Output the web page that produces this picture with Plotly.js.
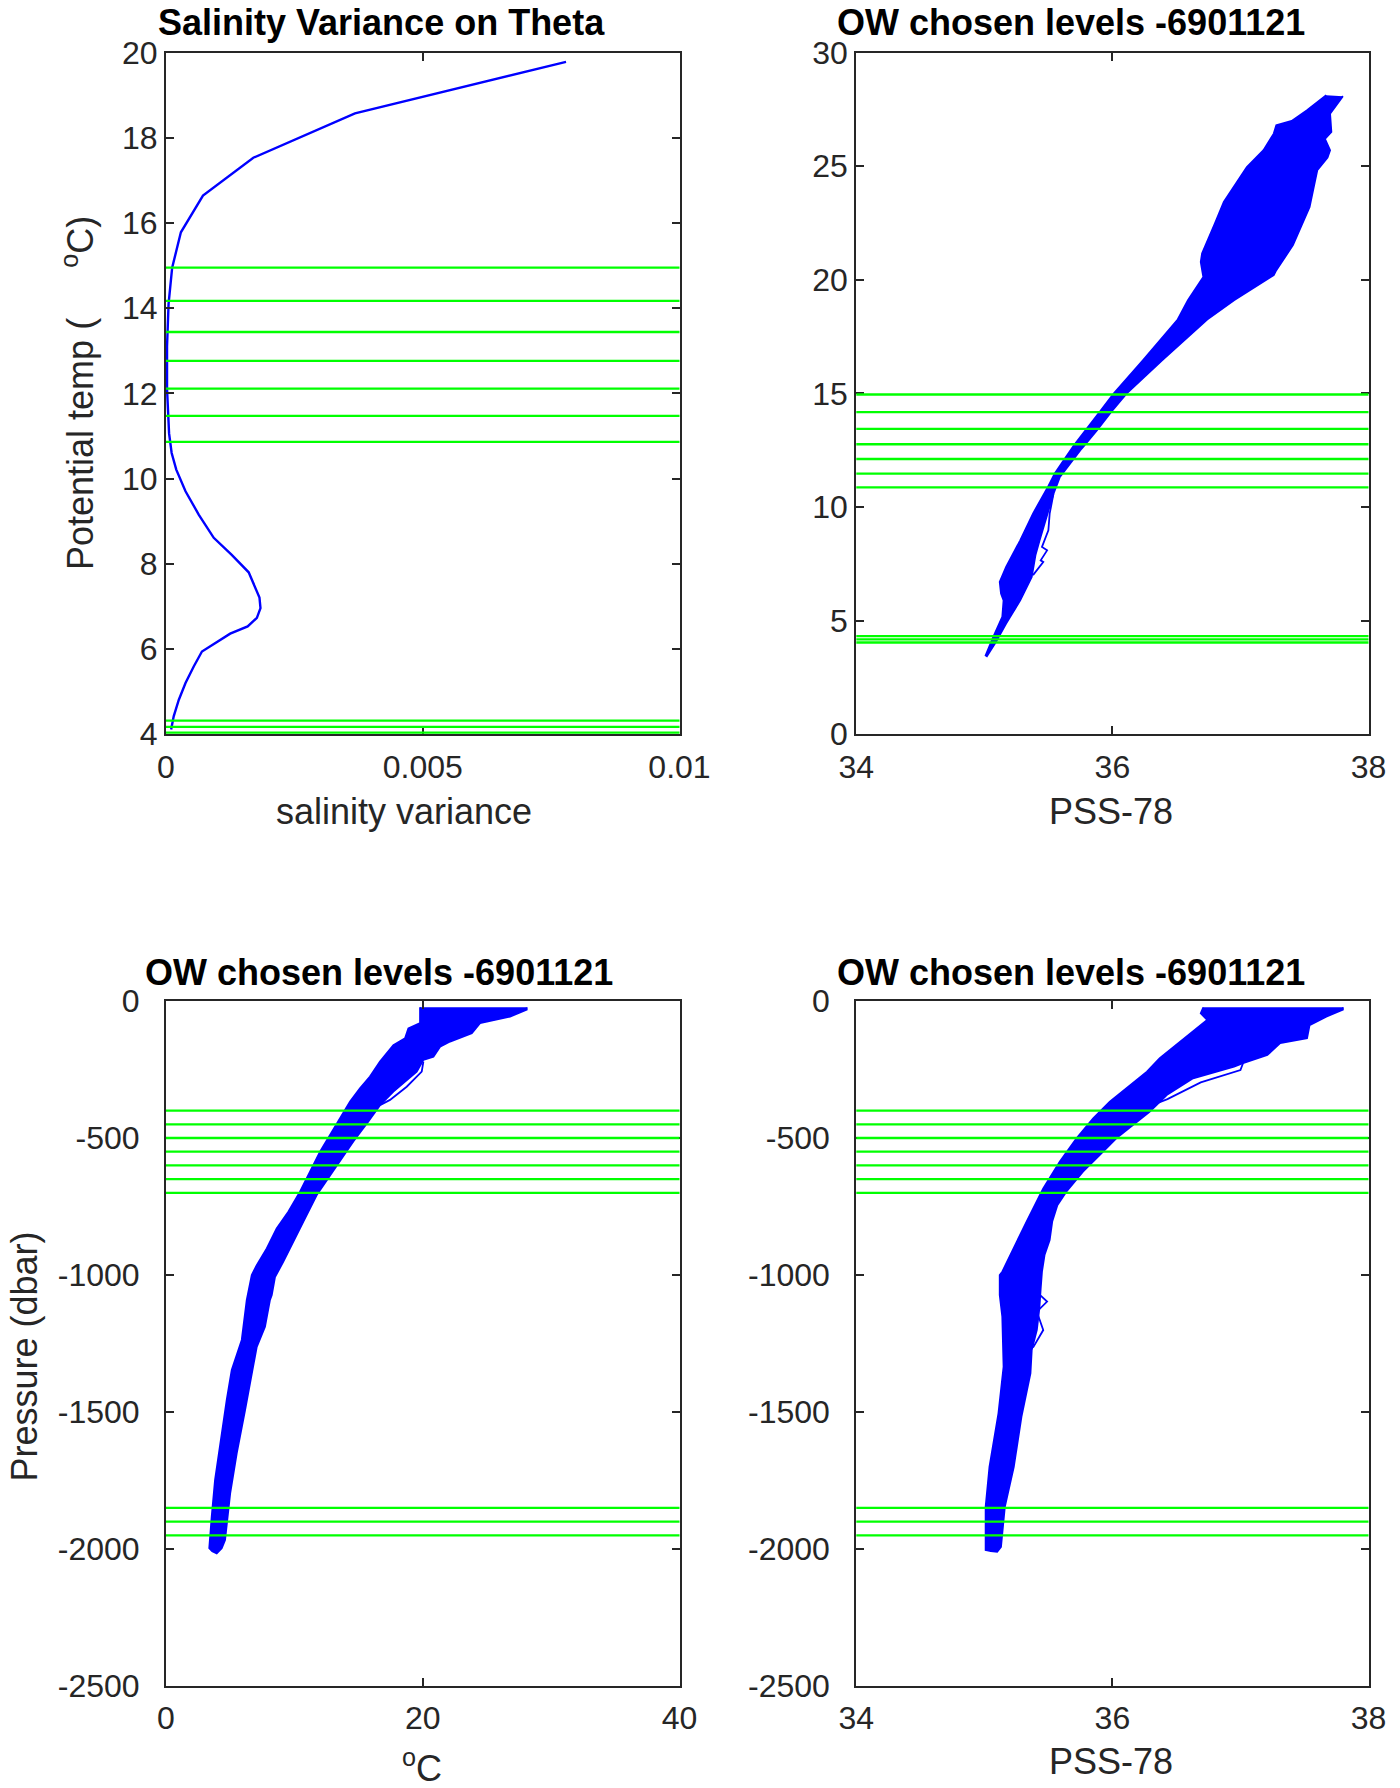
<!DOCTYPE html>
<html>
<head>
<meta charset="utf-8">
<script src="https://cdn.plot.ly/plotly-3.0.1.min.js"></script>
<style>
html,body{margin:0;padding:0;background:#fff;}
#chart{width:1400px;height:1788px;}
</style>
</head>
<body>
<div id="chart"></div>
<script>
// ---------------- DATA ----------------
// Panel 1: salinity variance on theta levels
const salVarTheta = [19.78, 18.57, 17.53, 16.64, 15.78, 14.95, 14.1, 13.1, 12.1, 11.06, 10.6, 10.21, 9.70, 9.15, 8.61, 8.21, 7.80, 7.21, 6.96, 6.73, 6.53, 6.36, 5.94, 5.59, 5.20, 4.81, 4.42, 4.11];
const salVar      = [0.00779, 0.00368, 0.0017, 0.00072, 0.00029, 0.00012, 0.00005, 0.00002, 0.00002, 0.00006, 0.00011, 0.0002, 0.00038, 0.00064, 0.00093, 0.00128, 0.00161, 0.00182, 0.00184, 0.00177, 0.00159, 0.00125, 0.0007, 0.00054, 0.00038, 0.00025, 0.00015, 0.0001];

// chosen levels
const thetaLevels = [14.95, 14.17, 13.44, 12.76, 12.11, 11.47, 10.86, 4.32, 4.17, 4.035];
const presLevels  = [-400, -450, -500, -550, -600, -650, -700, -1850, -1900, -1950];

// Panel 2: theta-S profile bundle (left / right edges of the envelope)
const tsLeftS      = [37.67, 37.52, 37.40, 37.28, 37.26, 37.18, 37.05, 36.97, 36.87, 36.80, 36.70, 36.69, 36.71, 36.59, 36.51, 36.24, 36.01, 35.90, 35.79, 35.70, 35.62, 35.55, 35.49, 35.38, 35.28, 35.17, 35.12, 35.13, 35.15, 35.14, 35.07, 35.01];
const tsLeftTheta  = [28.12, 27.46, 26.99, 26.80, 26.43, 25.70, 24.96, 24.30, 23.42, 22.47, 21.15, 20.78, 20.12, 19.10, 18.25, 16.46, 14.99, 14.18, 13.38, 12.72, 12.06, 11.47, 10.81, 9.71, 8.53, 7.36, 6.70, 6.19, 5.89, 5.16, 4.28, 3.47];
const tsRightS     = [37.80, 37.70, 37.71, 37.66, 37.70, 37.68, 37.60, 37.57, 37.54, 37.48, 37.41, 37.28, 37.26, 36.95, 36.74, 36.39, 36.11, 35.99, 35.88, 35.76, 35.67, 35.59, 35.54, 35.50, 35.47, 35.43, 35.40, 35.37, 35.28, 35.17, 35.09, 35.02];
const tsRightTheta = [28.08, 27.31, 26.50, 26.20, 25.70, 25.38, 24.82, 24.01, 23.20, 22.47, 21.52, 20.42, 20.20, 19.10, 18.25, 16.46, 14.99, 14.18, 13.38, 12.57, 11.91, 11.32, 10.59, 9.90, 9.30, 8.50, 7.90, 6.92, 5.89, 4.87, 4.06, 3.43];
const tsStrandS     = [35.54, 35.51, 35.50, 35.45, 35.49, 35.44, 35.46, 35.38];
const tsStrandTheta = [10.59, 9.71, 8.97, 8.24, 8.09, 7.65, 7.58, 7.00];

// Panel 3: pressure-temperature profile bundle
const ptLeftT  = [19.79, 19.79, 18.88, 18.62, 17.71, 16.67, 15.89, 15.11, 14.34, 13.56, 12.78, 12.0, 11.22, 10.44, 9.53, 8.62, 7.85, 7.07, 6.68, 6.41, 6.29, 5.90, 5.12, 4.73, 4.21, 3.82, 3.56, 3.37];
const ptLeftP  = [-23, -81, -100, -136, -161, -221, -276, -319, -367, -428, -489, -550, -623, -696, -769, -830, -903, -964, -1000, -1073, -1091, -1237, -1347, -1456, -1627, -1748, -1882, -1997];
const ptRightT = [28.1, 28.1, 26.8, 24.46, 23.82, 22.13, 21.35, 20.83, 20.05, 19.53, 17.71, 16.67, 15.76, 14.59, 13.30, 11.74, 10.70, 9.92, 9.14, 8.49, 8.24, 8.10, 7.71, 7.07, 6.68, 6.16, 5.51, 5.0, 4.60, 4.34, 3.95, 3.6];
const ptRightP = [-23, -32, -57, -81, -118, -148, -167, -203, -215, -258, -331, -380, -440, -513, -599, -708, -805, -880, -951, -1008, -1073, -1091, -1189, -1262, -1359, -1493, -1651, -1797, -1967, -1997, -2016, -2008];
const ptStrandT = [20.05, 19.92, 18.75, 17.45, 16.67];
const ptStrandP = [-221, -258, -313, -361, -380];

// Panel 4: pressure-salinity profile bundle
const psLeftS  = [36.71, 36.69, 36.74, 36.66, 36.58, 36.50, 36.37, 36.27, 36.11, 35.98, 35.85, 35.72, 35.59, 35.46, 35.33, 35.23, 35.14, 35.12, 35.12, 35.14, 35.15, 35.11, 35.04, 35.01, 35.01];
const psLeftP  = [-23, -45, -69, -100, -130, -161, -209, -258, -319, -367, -428, -501, -586, -684, -805, -903, -988, -1000, -1073, -1152, -1335, -1505, -1700, -1846, -2004];
const psRightS = [37.80, 37.80, 37.67, 37.54, 37.52, 37.31, 37.21, 37.02, 36.95, 36.63, 36.43, 36.29, 36.16, 36.03, 35.90, 35.77, 35.64, 35.57, 35.53, 35.51, 35.47, 35.45, 35.44, 35.43, 35.41, 35.37, 35.36, 35.29, 35.23, 35.16, 35.13, 35.10, 35.05];
const psRightP = [-23, -32, -57, -88, -136, -154, -197, -227, -240, -282, -341, -404, -453, -501, -562, -623, -696, -745, -805, -872, -927, -988, -1049, -1120, -1200, -1274, -1359, -1517, -1700, -1846, -1992, -2010, -2008];
const psStrandS  = [37.02, 37.00, 36.69, 36.43, 36.35];
const psStrandP  = [-227, -252, -297, -358, -373];
const psStrand2S = [35.44, 35.49, 35.41, 35.46, 35.38];
const psStrand2P = [-1075, -1097, -1134, -1201, -1265];

// ticks
const varTickVals = [0, 0.005, 0.01];
const varTickText = ['0', '0.005', '0.01'];
const thetaTickVals1 = [4, 6, 8, 10, 12, 14, 16, 18, 20];
const thetaTickVals2 = [0, 5, 10, 15, 20, 25, 30];
const salTickVals = [34, 36, 38];
const tempTickVals = [0, 20, 40];
const presTickVals = [-2500, -2000, -1500, -1000, -500, 0];
const presTickText = ['-2500', '-2000', '-1500', '-1000', '-500', '0'];

// titles
const titleTop1 = 'Salinity Variance on Theta';
const titleOW = 'OW chosen levels -6901121';

// ---------------- FIGURE ----------------
const W = 1400, H = 1788;
const px = p => p / W;
const py = p => 1 - p / H;
const FONT = 'Liberation Sans, Arial, Helvetica, sans-serif';
const BLUE = '#0000ff', GREEN = '#00ff00', AXC = '#262626';

function envelope(lx, ly, rx, ry) {
  return {
    x: lx.concat(rx.slice().reverse()),
    y: ly.concat(ry.slice().reverse())
  };
}

const traces = [];
traces.push({x: salVar, y: salVarTheta, xaxis: 'x', yaxis: 'y', mode: 'lines',
  line: {color: BLUE, width: 2.4}});

const ts = envelope(tsLeftS, tsLeftTheta, tsRightS, tsRightTheta);
traces.push({x: ts.x, y: ts.y, xaxis: 'x2', yaxis: 'y2', mode: 'lines', fill: 'toself',
  fillcolor: BLUE, line: {color: BLUE, width: 1.8}});
traces.push({x: tsStrandS, y: tsStrandTheta, xaxis: 'x2', yaxis: 'y2', mode: 'lines',
  line: {color: BLUE, width: 1.8}});

const pt = envelope(ptLeftT, ptLeftP, ptRightT, ptRightP);
traces.push({x: pt.x, y: pt.y, xaxis: 'x3', yaxis: 'y3', mode: 'lines', fill: 'toself',
  fillcolor: BLUE, line: {color: BLUE, width: 1.8}});
traces.push({x: ptStrandT, y: ptStrandP, xaxis: 'x3', yaxis: 'y3', mode: 'lines',
  line: {color: BLUE, width: 1.8}});

const ps = envelope(psLeftS, psLeftP, psRightS, psRightP);
traces.push({x: ps.x, y: ps.y, xaxis: 'x4', yaxis: 'y4', mode: 'lines', fill: 'toself',
  fillcolor: BLUE, line: {color: BLUE, width: 1.8}});
traces.push({x: psStrandS, y: psStrandP, xaxis: 'x4', yaxis: 'y4', mode: 'lines',
  line: {color: BLUE, width: 1.8}});
traces.push({x: psStrand2S, y: psStrand2P, xaxis: 'x4', yaxis: 'y4', mode: 'lines',
  line: {color: BLUE, width: 1.8}});

const shapes = [];
function levelLines(levels, xa, ya) {
  levels.forEach(v => shapes.push({type: 'line', xref: xa + ' domain', yref: ya,
    x0: 0, x1: 1, y0: v, y1: v, line: {color: GREEN, width: 2.3}, layer: 'above'}));
}
levelLines(thetaLevels, 'x', 'y');
levelLines(thetaLevels, 'x2', 'y2');
levelLines(presLevels, 'x3', 'y3');
levelLines(presLevels, 'x4', 'y4');

const axBase = {
  showline: true, linecolor: AXC, linewidth: 2, mirror: 'ticks',
  ticks: 'inside', ticklen: 8, tickwidth: 2, tickcolor: AXC,
  showgrid: false, zeroline: false, fixedrange: true,
  tickfont: {family: FONT, size: 32, color: AXC}
};
const xL = [166 / W, 679.5 / W], xR = [856.3 / W, 1368.5 / W];
const yT = [py(734.2), py(52.5)], yB = [py(1686), py(1001)];

function xax(dom, anchor, range, vals, text) {
  const a = Object.assign({}, axBase, {domain: dom, anchor: anchor, range: range,
    tickmode: 'array', tickvals: vals, ticklabelstandoff: 3});
  a.ticktext = text || vals.map(String);
  return a;
}
function yax(dom, anchor, range, vals, text, standoff) {
  const a = Object.assign({}, axBase, {domain: dom, anchor: anchor, range: range,
    tickmode: 'array', tickvals: vals, ticklabelstandoff: standoff});
  a.ticktext = text || vals.map(String);
  return a;
}

const titleFont = {family: FONT, size: 36, color: '#000000', weight: 'bold'};
const labFont = {family: FONT, size: 36, color: AXC};
function ann(text, x, y, font, angle) {
  return {text: text, xref: 'paper', yref: 'paper', x: px(x), y: py(y),
    xanchor: 'center', yanchor: 'middle', showarrow: false, font: font,
    textangle: angle || 0};
}

const layout = {
  width: W, height: H, margin: {l: 0, r: 0, t: 0, b: 0},
  paper_bgcolor: '#ffffff', plot_bgcolor: '#ffffff', showlegend: false,
  xaxis:  xax(xL, 'y',  [0, 0.01], varTickVals, varTickText),
  yaxis:  yax(yT, 'x',  [4, 20], thetaTickVals1, null, 12.5),
  xaxis2: xax(xR, 'y2', [34, 38], salTickVals),
  yaxis2: yax(yT, 'x2', [0, 30], thetaTickVals2, null, 11.5),
  xaxis3: xax(xL, 'y3', [0, 40], tempTickVals),
  yaxis3: yax(yB, 'x3', [-2500, 0], presTickVals, presTickText, 18),
  xaxis4: xax(xR, 'y4', [34, 38], salTickVals),
  yaxis4: yax(yB, 'x4', [-2500, 0], presTickVals, presTickText, 18),
  shapes: shapes,
  annotations: [
    ann('<b>' + titleTop1 + '</b>', 381, 22.5, titleFont),
    ann('<b>' + titleOW + '</b>', 1071, 22.5, titleFont),
    ann('<b>' + titleOW + '</b>', 379, 972, titleFont),
    ann('<b>' + titleOW + '</b>', 1071, 972, titleFont),
    ann('salinity variance', 403.8, 811.5, labFont),
    ann('PSS-78', 1111, 811.5, labFont),
    ann('<sup>o</sup>C', 422, 1766, labFont),
    ann('PSS-78', 1111, 1761.5, labFont),
    ann('Potential temp (\u00a0\u00a0\u00a0\u00a0\u00a0<sup>o</sup>C)', 78, 393, labFont, -90),
    ann('Pressure (dbar)', 23.6, 1357, labFont, -90)
  ]
};

Plotly.newPlot('chart', traces, layout, {staticPlot: true, displayModeBar: false});
</script>
</body>
</html>
